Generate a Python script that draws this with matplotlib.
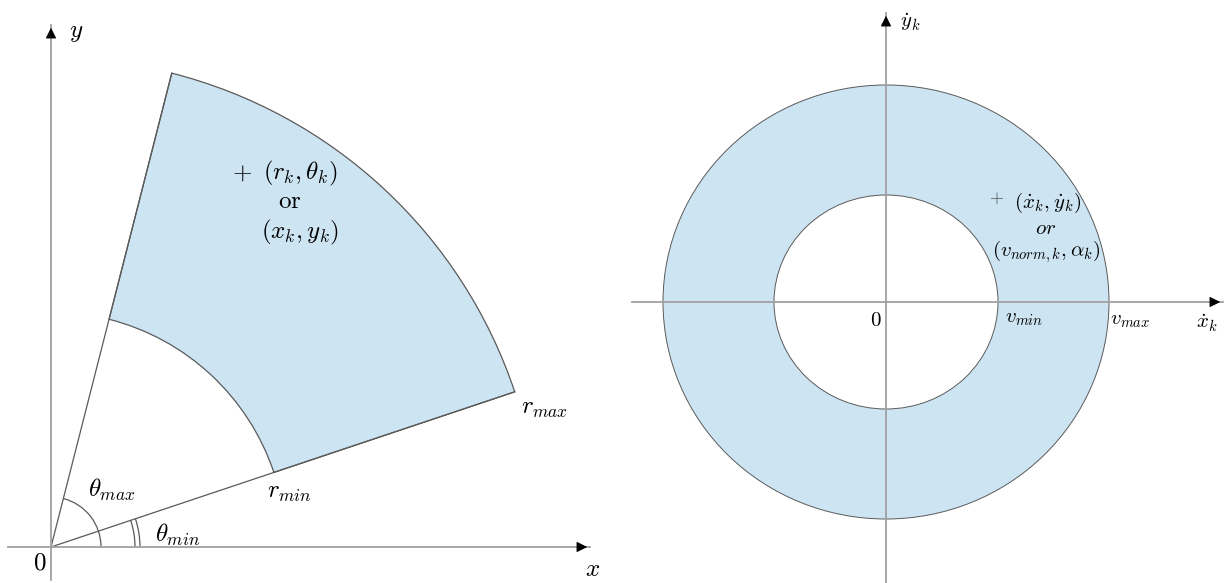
"""Sector / annulus sketch of the position and velocity sampling regions."""

import numpy as np
import matplotlib.pyplot as plt
from matplotlib.patches import Wedge, Ellipse, Arc

plt.rcParams['mathtext.fontset'] = 'cm'
plt.rcParams['font.family'] = ['DejaVu Serif']

# left panel: polar sector (pixel units, origin at axis crossing)
origin = (51, 36)
r_min, r_max = 235, 489
theta_min, theta_max = 18.5, 75.7
theta_max_arc = 50
theta_min_arcs = [84, 89]

# right panel: velocity annulus (half widths / half heights)
center = (886, 281)
v_max = (223, 217)
v_min = (112, 107)

FILL = '#cde4f2'
EDGE = '#5a5a5a'
AXIS = '#a0a0a0'


def axis_arrow(ax, start, end):
    ax.plot([start[0], end[0]], [start[1], end[1]], color=AXIS, lw=1.3, zorder=3)
    d = np.subtract(end, start)
    d = d / np.hypot(*d)
    ax.annotate('', xy=end, xytext=(end[0] - d[0] * 12, end[1] - d[1] * 12),
                arrowprops=dict(arrowstyle='-|>', color='black', lw=0.8, mutation_scale=16),
                zorder=4)


def polar(r, deg):
    t = np.radians(deg)
    return origin[0] + r * np.cos(t), origin[1] + r * np.sin(t)


fig = plt.figure(figsize=(12.28, 5.83), dpi=100)
ax = fig.add_axes([0, 0, 1, 1])
ax.set_xlim(0, 1228)
ax.set_ylim(0, 583)
ax.axis('off')

# ---- left panel
ax.add_patch(Wedge(origin, r_max, theta_min, theta_max, width=r_max - r_min,
                   facecolor=FILL, edgecolor=EDGE, lw=0.9, zorder=1))
for th in (theta_min, theta_max):
    x1, y1 = polar(r_max, th)
    ax.plot([origin[0], x1], [origin[1], y1], color=EDGE, lw=0.9, zorder=2)
ax.add_patch(Arc(origin, 2 * theta_max_arc, 2 * theta_max_arc, theta1=0, theta2=theta_max,
                 color=EDGE, lw=0.9, zorder=2))
for r in theta_min_arcs:
    ax.add_patch(Arc(origin, 2 * r, 2 * r, theta1=0, theta2=theta_min, color=EDGE, lw=0.9, zorder=2))

axis_arrow(ax, (8, origin[1]), (590, origin[1]))
axis_arrow(ax, (origin[0], 3), (origin[0], 558))

fs = 18
ax.text(76, 550, '$y$', fontsize=fs, ha='center', va='center')
ax.text(593, 14, '$x$', fontsize=fs, ha='center', va='center')
ax.text(40, 20, '$0$', fontsize=fs, ha='center', va='center')
ax.text(112, 93, r'$\theta_{max}$', fontsize=fs, ha='center', va='center')
ax.text(178, 48, r'$\theta_{min}$', fontsize=fs, ha='center', va='center')
ax.text(289, 91, r'$r_{min}$', fontsize=fs, ha='center', va='center')
ax.text(545, 175, r'$r_{max}$', fontsize=fs, ha='center', va='center')
ax.text(242, 410, r'$+$', fontsize=fs, ha='center', va='center')
ax.text(300, 410, r'$(r_k, \theta_k)$', fontsize=fs, ha='center', va='center')
ax.text(290, 381, r'$\mathrm{or}$', fontsize=fs, ha='center', va='center')
ax.text(300, 351, r'$(x_k, y_k)$', fontsize=fs, ha='center', va='center')

# ---- right panel
ax.add_patch(Ellipse(center, 2 * v_max[0], 2 * v_max[1], facecolor=FILL, edgecolor=EDGE, lw=0.7, zorder=1))
ax.add_patch(Ellipse(center, 2 * v_min[0], 2 * v_min[1], facecolor='white', edgecolor=EDGE, lw=0.7, zorder=1))

axis_arrow(ax, (632, center[1]), (1223, center[1]))
axis_arrow(ax, (center[0], 0), (center[0], 570))

fs2 = 15
ax.text(910, 561, r'$\dot{y}_k$', fontsize=fs2, ha='center', va='center')
ax.text(1207, 260, r'$\dot{x}_k$', fontsize=fs2, ha='center', va='center')
ax.text(876, 262, '$0$', fontsize=fs2, ha='center', va='center')
ax.text(1024, 264, r'$v_{min}$', fontsize=fs2, ha='center', va='center')
ax.text(1130, 262, r'$v_{max}$', fontsize=fs2, ha='center', va='center')
ax.text(997, 385, r'$+$', fontsize=fs2 - 2, ha='center', va='center', color='#555555')
ax.text(1048, 380, r'$(\dot{x}_k, \dot{y}_k)$', fontsize=fs2, ha='center', va='center')
ax.text(1046, 355, r'$or$', fontsize=fs2, ha='center', va='center')
ax.text(1046, 331, r'$(v_{norm,k}, \alpha_k)$', fontsize=fs2, ha='center', va='center')

fig.savefig('out.png', dpi=100)
